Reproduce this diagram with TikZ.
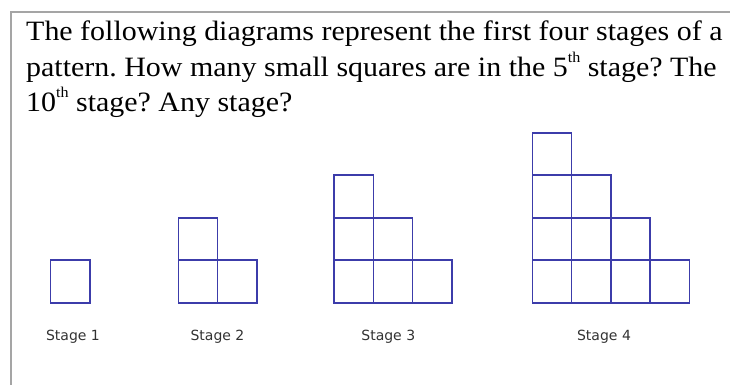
\documentclass[tikz,border=0pt]{standalone}
\usepackage{fontspec}
\usepackage{tikz}
\usepackage{xcolor}
\setmainfont[FakeStretch=1.07]{Liberation Serif}
\newfontfamily\labelfont{DejaVu Sans}
\definecolor{cellblue}{RGB}{60,60,170}
\definecolor{framegray}{RGB}{165,165,165}
\definecolor{labelgray}{RGB}{50,50,50}
\newcommand{\ordsup}[1]{\raisebox{0.5em}{\fontsize{15}{15}\selectfont #1}}
\frenchspacing

\begin{document}
\begin{tikzpicture}[x=1pt,y=-1pt,
  every node/.style={inner sep=0pt},
  cell/.style={draw=cellblue,line width=1.6pt},
  textline/.style={anchor=base west,font=\fontsize{28}{36}\selectfont},
  stagelabel/.style={font=\labelfont\fontsize{14}{16}\selectfont,text=labelgray}]
\useasboundingbox (0,0) rectangle (730,385);
% frame
\draw[framegray,line width=2pt] (11,385) -- (11,12) -- (730,12);
% question
\node[textline] (line1) at (26,40.7) {The following diagrams represent the first four stages of a};
\node[textline] (line2) at (26,77) {pattern. How many small squares are in the 5\ordsup{th} stage? The};
\node[textline] (line3) at (26,112) {10\ordsup{th} stage? Any stage?};
% stage 1
\draw[cell] (50.5,302.7) rectangle (89.8,260.2);
% stage 2
\draw[cell] (178.3,302.7) rectangle (217.6,260.2);
\draw[cell] (217.6,302.7) rectangle (256.9,260.2);
\draw[cell] (178.3,260.2) rectangle (217.6,217.7);
% stage 3
\draw[cell] (334,302.7) rectangle (373.3,260.2);
\draw[cell] (373.3,302.7) rectangle (412.6,260.2);
\draw[cell] (412.6,302.7) rectangle (451.9,260.2);
\draw[cell] (334,260.2) rectangle (373.3,217.7);
\draw[cell] (373.3,260.2) rectangle (412.6,217.7);
\draw[cell] (334,217.7) rectangle (373.3,175.2);
% stage 4
\draw[cell] (532.3,302.7) rectangle (571.6,260.2);
\draw[cell] (571.6,302.7) rectangle (610.9,260.2);
\draw[cell] (610.9,302.7) rectangle (650.2,260.2);
\draw[cell] (650.2,302.7) rectangle (689.5,260.2);
\draw[cell] (532.3,260.2) rectangle (571.6,217.7);
\draw[cell] (571.6,260.2) rectangle (610.9,217.7);
\draw[cell] (610.9,260.2) rectangle (650.2,217.7);
\draw[cell] (532.3,217.7) rectangle (571.6,175.2);
\draw[cell] (571.6,217.7) rectangle (610.9,175.2);
\draw[cell] (532.3,175.2) rectangle (571.6,132.7);
% labels
\node[stagelabel] (stage1) at (73,336.7) {Stage 1};
\node[stagelabel] (stage2) at (217.5,336.7) {Stage 2};
\node[stagelabel] (stage3) at (388.3,336.7) {Stage 3};
\node[stagelabel] (stage4) at (604,336.7) {Stage 4};
\end{tikzpicture}
\end{document}
